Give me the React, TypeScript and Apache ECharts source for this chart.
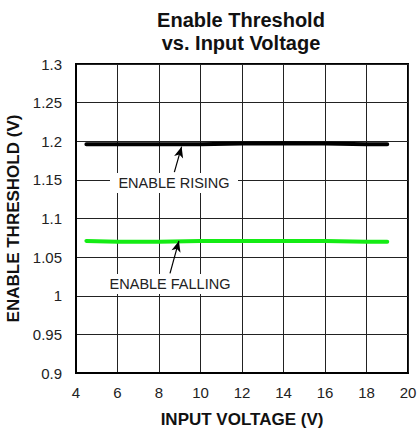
import React, { useEffect, useRef } from "react";
import * as echarts from "echarts";

const inputVoltage = [4.5, 6, 8, 10, 12, 14, 16, 18, 19];
const enableRising = [1.196, 1.196, 1.196, 1.196, 1.197, 1.1975, 1.197, 1.196, 1.196];
const enableFalling = [1.071, 1.07, 1.07, 1.071, 1.071, 1.071, 1.071, 1.07, 1.07];
const risingArrow = [[8.74, 1.16], [9.09, 1.193]];
const fallingArrow = [[8.53, 1.029], [8.96, 1.071]];
const titleText = "Enable Threshold\nvs. Input Voltage";
const xName = "INPUT VOLTAGE (V)";
const yName = "ENABLE THRESHOLD (V)";
const risingLabel = "ENABLE RISING";
const fallingLabel = "ENABLE FALLING";

const FONT = "'Liberation Sans', Arial, sans-serif";

export default function App() {
  const ref = useRef<HTMLDivElement>(null);
  useEffect(() => {
    if (!ref.current) return;
    const chart = echarts.init(ref.current, null, { renderer: "svg" });
    const arrowLine = (pts: number[][]) => ({
      silent: true,
      symbol: ["none", "arrow"],
      symbolSize: [7, 11],
      label: { show: false },
      lineStyle: { color: "#000", width: 1.2, type: "solid" },
      emphasis: { disabled: true },
      data: [[{ coord: pts[0] }, { coord: pts[1] }]],
    });
    chart.setOption({
      animation: false,
      textStyle: { fontFamily: FONT },
      grid: {
        left: 76,
        right: 9,
        top: 64,
        bottom: 56,
        outerBoundsMode: "none",
        containLabel: false,
        show: true,
        borderColor: "#000",
        borderWidth: 2,
        backgroundColor: "transparent",
      },
      xAxis: {
        type: "value",
        min: 4,
        max: 20,
        interval: 2,
        name: xName,
        nameLocation: "middle",
        nameGap: 38,
        nameTextStyle: { fontSize: 17, fontWeight: "bold", color: "#111", fontFamily: FONT },
        axisLine: { show: true, lineStyle: { color: "#000", width: 2 } },
        axisTick: { show: false },
        axisLabel: { fontSize: 15, color: "#222", margin: 12, fontFamily: FONT },
        splitLine: { show: true, lineStyle: { color: "#222", width: 1 } },
      },
      yAxis: {
        type: "value",
        min: 0.9,
        max: 1.3,
        interval: 0.05,
        name: yName,
        nameLocation: "middle",
        nameGap: 53,
        nameTextStyle: { fontSize: 17, fontWeight: "bold", color: "#111", fontFamily: FONT },
        axisLine: { show: true, lineStyle: { color: "#000", width: 2 } },
        axisTick: { show: false },
        axisLabel: {
          fontSize: 15,
          color: "#222",
          margin: 14,
          fontFamily: FONT,
          formatter: (v: number) => String(+v.toFixed(2)),
        },
        splitLine: { show: true, lineStyle: { color: "#222", width: 1 } },
      },
      series: [
        {
          type: "line",
          data: inputVoltage.map((x, i) => [x, enableRising[i]]),
          showSymbol: false,
          symbol: "none",
          lineStyle: { color: "#000", width: 4, cap: "round" },
          z: 3,
          markLine: arrowLine(risingArrow),
        },
        {
          type: "line",
          data: inputVoltage.map((x, i) => [x, enableFalling[i]]),
          showSymbol: false,
          symbol: "none",
          lineStyle: { color: "#14ec14", width: 4, cap: "round" },
          z: 3,
          markLine: arrowLine(fallingArrow),
        },
      ],
      graphic: [
        {
          type: "text",
          x: 241,
          y: 8,
          style: {
            text: titleText,
            font: `bold 20px ${FONT}`,
            fill: "#111",
            align: "center",
            verticalAlign: "top",
            lineHeight: 23,
          },
        },
        {
          type: "rect",
          shape: { x: 110, y: 173, width: 128, height: 20 },
          style: { fill: "#fff" },
          z: 10,
        },
        {
          type: "text",
          x: 174,
          y: 183,
          z: 11,
          style: {
            text: risingLabel,
            font: `14.5px ${FONT}`,
            fill: "#222",
            align: "center",
            verticalAlign: "middle",
          },
        },
        {
          type: "rect",
          shape: { x: 104, y: 274, width: 134, height: 20 },
          style: { fill: "#fff" },
          z: 10,
        },
        {
          type: "text",
          x: 170,
          y: 284,
          z: 11,
          style: {
            text: fallingLabel,
            font: `14.5px ${FONT}`,
            fill: "#222",
            align: "center",
            verticalAlign: "middle",
          },
        },
      ],
    });
    return () => chart.dispose();
  }, []);
  return (
    <div
      ref={ref}
      style={{ position: "fixed", left: 0, top: 0, width: 417, height: 429, background: "#fff" }}
    />
  );
}
